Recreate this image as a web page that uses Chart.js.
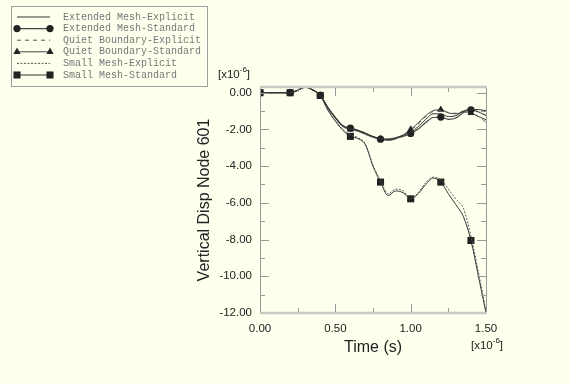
<!DOCTYPE html>
<html>
<head>
<meta charset="utf-8">
<script src="https://cdn.jsdelivr.net/npm/chart.js@4.4.0/dist/chart.umd.min.js"></script>
<style>
  html, body { margin: 0; padding: 0; background: #ffffee; }
  canvas { display: block; }
</style>
</head>
<body>
<canvas id="chart" width="570" height="384"></canvas>
<script>
// time axis (x10^-6 s)
const timeSteps = [0.00, 0.05, 0.10, 0.15, 0.20, 0.25, 0.30, 0.35, 0.40, 0.45, 0.50,
                   0.55, 0.60, 0.65, 0.70, 0.75, 0.80, 0.85, 0.90, 0.95, 1.00,
                   1.05, 1.10, 1.15, 1.20, 1.25, 1.30, 1.35, 1.40, 1.45, 1.50];
const markerTimes = [0.00, 0.20, 0.40, 0.60, 0.80, 1.00, 1.20, 1.40];

// vertical displacement (x10^-6)
const extendedExplicit = [0, 0, 0, 0, 0, 0.13, 0.3, 0.15, -0.15, -0.8, -1.35,
  -1.8, -1.95, -2.05, -2.2, -2.38, -2.5, -2.52, -2.45, -2.32, -2.15,
  -1.85, -1.45, -1.15, -1.15, -1.3, -1.25, -1.0, -0.9, -0.92, -0.98];
const extendedStandard = [0, 0, 0, 0, 0, 0.13, 0.3, 0.15, -0.15, -0.8, -1.35,
  -1.8, -1.93, -2.05, -2.22, -2.4, -2.53, -2.55, -2.48, -2.38, -2.22,
  -1.98, -1.62, -1.35, -1.33, -1.45, -1.38, -1.08, -0.93, -1.05, -1.24];
const quietExplicit = [0, 0, 0, 0, 0, 0.13, 0.3, 0.15, -0.15, -0.82, -1.38,
  -1.83, -1.98, -2.08, -2.25, -2.42, -2.52, -2.58, -2.5, -2.3, -2.05,
  -1.7, -1.3, -1.02, -0.97, -1.08, -1.12, -1.02, -1.05, -1.3, -1.6];
const quietStandard = [0, 0, 0, 0, 0, 0.13, 0.3, 0.15, -0.15, -0.82, -1.38,
  -1.85, -2.0, -2.1, -2.27, -2.43, -2.52, -2.6, -2.52, -2.3, -2.0,
  -1.65, -1.25, -0.98, -0.93, -1.1, -1.15, -1.05, -1.1, -1.3, -1.47];
const smallExplicit = [0, 0, 0, 0, 0, 0.13, 0.3, 0.15, -0.15, -0.92, -1.5,
  -2.0, -2.3, -2.45, -2.8, -3.95, -4.8, -5.5, -5.25, -5.35, -5.75,
  -5.45, -4.9, -4.6, -4.75, -5.25, -5.8, -6.3, -7.8, -9.8, -11.9];
const smallStandard = [0, 0, 0, 0, 0, 0.13, 0.3, 0.15, -0.15, -0.95, -1.55,
  -2.05, -2.38, -2.5, -2.85, -4.0, -4.87, -5.6, -5.35, -5.45, -5.78,
  -5.5, -5.0, -4.65, -4.87, -5.5, -6.1, -6.75, -8.05, -10.0, -12.0];

// ticks
const xTickValues = [0, 0.5, 1.0, 1.5];
const xMinorTicks = [0.25, 0.75, 1.25];
const yTickValues = [0, -2, -4, -6, -8, -10, -12];
const yMinorTicks = [-1, -3, -5, -7, -9, -11];

const seriesNames = ['Extended Mesh-Explicit', 'Extended Mesh-Standard', 'Quiet Boundary-Explicit',
                     'Quiet Boundary-Standard', 'Small Mesh-Explicit', 'Small Mesh-Standard'];

function makePoints(values) {
    return timeSteps.map((t, i) => ({ x: t, y: values[i] }));
}

function markerSizes(r) {
    return timeSteps.map(t => markerTimes.includes(t) ? r : 0);
}

// line styles (also used for the legend)
const styles = [
    { color: '#333', width: 1, dash: [], marker: null, r: 0 },
    { color: '#444', width: 1.2, dash: [], marker: 'circle', r: 3.6 },
    { color: '#555', width: 1, dash: [4, 4], marker: null, r: 0 },
    { color: '#444', width: 1, dash: [], marker: 'triangle', r: 4.2 },
    { color: '#555', width: 1, dash: [2, 1.5], marker: null, r: 0 },
    { color: '#333', width: 1, dash: [], marker: 'rect', r: 5 }
];
const seriesValues = [extendedExplicit, extendedStandard, quietExplicit, quietStandard, smallExplicit, smallStandard];

const datasets = seriesValues.map((vals, i) => {
    const s = styles[i];
    return {
        label: seriesNames[i],
        data: makePoints(vals),
        borderColor: s.color,
        borderWidth: s.width,
        borderDash: s.dash,
        cubicInterpolationMode: 'monotone',
        pointStyle: s.marker || 'circle',
        pointRadius: s.marker ? markerSizes(s.r) : 0,
        pointBackgroundColor: '#222',
        pointBorderColor: '#222',
        pointBorderWidth: 0,
        fill: false
    };
});

// draw a legend marker
function drawMarker(ctx, type, x, y, r) {
    ctx.beginPath();
    if (type === 'circle') {
        ctx.arc(x, y, r, 0, Math.PI * 2);
    } else if (type === 'triangle') {
        ctx.moveTo(x, y - r);
        ctx.lineTo(x + r * 0.87, y + r * 0.5);
        ctx.lineTo(x - r * 0.87, y + r * 0.5);
        ctx.closePath();
    } else if (type === 'rect') {
        const h = r * Math.SQRT1_2;
        ctx.rect(x - h, y - h, h * 2, h * 2);
    }
    ctx.fill();
}

function drawMultiplier(ctx, x, y) {
    ctx.fillStyle = '#222';
    ctx.textBaseline = 'middle';
    ctx.textAlign = 'left';
    ctx.font = '11.5px "Liberation Sans", Arial, sans-serif';
    ctx.fillText('[x10', x, y);
    let w = ctx.measureText('[x10').width;
    ctx.font = '8px "Liberation Sans", Arial, sans-serif';
    ctx.fillText('-6', x + w, y - 5);
    w += ctx.measureText('-6').width;
    ctx.font = '11.5px "Liberation Sans", Arial, sans-serif';
    ctx.fillText(']', x + w, y);
}

// frame, inside ticks, legend box and the x10^-6 labels
const framePlugin = {
    id: 'frame',
    afterDraw(chart) {
        const { ctx, chartArea: a, scales: { x, y } } = chart;
        ctx.save();

        // ticks
        ctx.strokeStyle = '#999';
        ctx.lineWidth = 1;
        ctx.beginPath();
        const xt = (v, len) => {
            const px = Math.round(x.getPixelForValue(v)) + 0.5;
            ctx.moveTo(px, a.bottom); ctx.lineTo(px, a.bottom - len);
            ctx.moveTo(px, a.top); ctx.lineTo(px, a.top + len);
        };
        const yt = (v, len) => {
            const py = Math.round(y.getPixelForValue(v)) + 0.5;
            ctx.moveTo(a.left, py); ctx.lineTo(a.left + len, py);
            ctx.moveTo(a.right, py); ctx.lineTo(a.right - len, py);
        };
        xTickValues.forEach(v => xt(v, 9));
        xMinorTicks.forEach(v => xt(v, 5));
        yTickValues.forEach(v => yt(v, 9));
        yMinorTicks.forEach(v => yt(v, 5));
        ctx.stroke();

        // frame
        ctx.strokeStyle = '#999';
        ctx.lineWidth = 1;
        ctx.beginPath();
        ctx.moveTo(Math.round(a.left) + 0.5, a.top);
        ctx.lineTo(Math.round(a.left) + 0.5, a.bottom);
        ctx.moveTo(Math.round(a.right) + 0.5, a.top);
        ctx.lineTo(Math.round(a.right) + 0.5, a.bottom);
        ctx.stroke();
        ctx.strokeStyle = '#c8c8c0';
        ctx.lineWidth = 2.5;
        ctx.beginPath();
        ctx.moveTo(a.left, a.top); ctx.lineTo(a.right + 1, a.top);
        ctx.moveTo(a.left, a.bottom); ctx.lineTo(a.right + 1, a.bottom);
        ctx.stroke();

        // legend
        ctx.strokeStyle = '#a0a0a0';
        ctx.lineWidth = 1;
        ctx.setLineDash([]);
        ctx.strokeRect(11.5, 6.5, 196, 80);
        const rowY = [17, 28.6, 40.2, 51.8, 63.4, 75];
        ctx.font = '10px "Liberation Mono", "Courier New", monospace';
        ctx.textBaseline = 'middle';
        ctx.textAlign = 'left';
        styles.forEach((s, i) => {
            const ly = rowY[i];
            ctx.strokeStyle = s.color;
            ctx.lineWidth = s.width;
            ctx.setLineDash(s.dash);
            ctx.beginPath();
            ctx.moveTo(17, ly); ctx.lineTo(50, ly);
            ctx.stroke();
            ctx.setLineDash([]);
            if (s.marker) {
                ctx.fillStyle = '#222';
                drawMarker(ctx, s.marker, 17, ly, s.r);
                drawMarker(ctx, s.marker, 50, ly, s.r);
            }
            ctx.fillStyle = '#777';
            ctx.fillText(seriesNames[i], 63, ly);
        });

        drawMultiplier(ctx, 218, 75);
        drawMultiplier(ctx, 471, 346);
        ctx.restore();
    }
};

const tickFont = { family: '"Liberation Sans", Arial, sans-serif', size: 11.5 };
const titleFont = { family: '"Liberation Sans", Arial, sans-serif', size: 16 };

new Chart(document.getElementById('chart'), {
    type: 'line',
    data: { datasets: datasets },
    options: {
        responsive: false,
        animation: false,
        layout: { padding: { top: 87, right: 84, left: 0, bottom: 0 } },
        plugins: { legend: { display: false }, tooltip: { enabled: false } },
        scales: {
            x: {
                type: 'linear',
                min: 0,
                max: 1.5,
                grid: { display: false, drawTicks: false },
                border: { display: false },
                afterFit: s => { s.height = 71; },
                afterBuildTicks: s => { s.ticks = xTickValues.map(v => ({ value: v })); },
                ticks: {
                    color: '#222',
                    font: tickFont,
                    padding: 9,
                    maxRotation: 0,
                    callback: v => v.toFixed(2)
                },
                title: {
                    display: true,
                    text: 'Time (s)',
                    color: '#222',
                    font: titleFont,
                    padding: { top: 0, bottom: 27 }
                }
            },
            y: {
                type: 'linear',
                min: -12,
                max: 0.31,
                grid: { display: false, drawTicks: false },
                border: { display: false },
                afterFit: s => { s.width = 260; },
                afterBuildTicks: s => { s.ticks = yTickValues.map(v => ({ value: v })); },
                ticks: {
                    color: '#222',
                    font: tickFont,
                    padding: 8,
                    callback: v => v.toFixed(2)
                },
                title: {
                    display: true,
                    text: 'Vertical Disp Node 601',
                    color: '#222',
                    font: titleFont,
                    padding: { top: 195, bottom: 0 }
                }
            }
        }
    },
    plugins: [framePlugin]
});
</script>
</body>
</html>
